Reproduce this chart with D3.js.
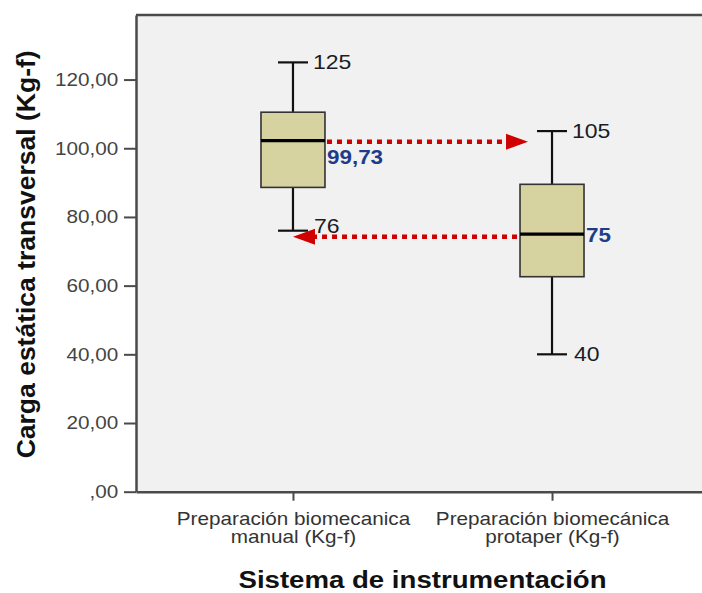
<!DOCTYPE html>
<html>
<head>
<meta charset="utf-8">
<script src="https://cdn.jsdelivr.net/npm/d3@7"></script>
<style>
  html, body { margin: 0; padding: 0; background: #ffffff; }
  svg { display: block; }
  text { font-family: "Liberation Sans", Arial, sans-serif; }
</style>
</head>
<body>
<svg id="chart" width="702" height="593"></svg>
<script>
// Box plot data: transverse static load per instrumentation system
const categories = ["manual", "protaper"];
const categoryLines = [
  ["Preparación biomecanica", "manual (Kg-f)"],
  ["Preparación biomecánica", "protaper (Kg-f)"]
];
const whiskerLow  = [76, 40];
const quartile1   = [88.6, 62.6];
const medians     = [102.2, 75];
const quartile3   = [110.5, 89.5];
const whiskerHigh = [125, 105];
const highLabels  = ["125", "105"];
const lowLabels   = ["76", "40"];
const centralValues = [99.73, 75];
const centralLabels = ["99,73", "75"];
const arrowLevels = [101.9, 74.2];   // dotted comparison arrows
const yTicks = [0, 20, 40, 60, 80, 100, 120];
const yTickLabels = [",00", "20,00", "40,00", "60,00", "80,00", "100,00", "120,00"];
const yMax = 138.8;
const yTitle = "Carga estática transversal (Kg-f)";
const xTitle = "Sistema de instrumentación";

const SX = 1.15;           // horizontal text stretch
const plot = { left: 136, right: 709, top: 15, bottom: 491.7 };
const boxW = 64, capW = 30;
const axisColor = "#4a4a4a";
const arrowRed = "#d10000";
const valueBlue = "#1d3d8c";

const svg = d3.select("#chart");

const y = d3.scaleLinear().domain([0, yMax]).range([plot.bottom, plot.top]);
const x = d3.scalePoint().domain(categories).range([plot.left, plot.right]).padding(0.606);

// plot background and top frame
svg.append("rect")
  .attr("x", plot.left).attr("y", plot.top)
  .attr("width", plot.right - plot.left).attr("height", plot.bottom - plot.top)
  .attr("fill", "#f1f1f1");
svg.append("line")
  .attr("x1", plot.left).attr("x2", plot.right)
  .attr("y1", plot.top).attr("y2", plot.top)
  .attr("stroke", axisColor).attr("stroke-width", 2.5);

// y axis
const yAxis = svg.append("g")
  .attr("transform", `translate(${plot.left},0)`)
  .call(d3.axisLeft(y).tickValues(yTicks).tickSize(12).tickSizeOuter(0).tickPadding(3.5)
    .tickFormat((d, i) => yTickLabels[i]));
yAxis.select(".domain").attr("stroke", axisColor).attr("stroke-width", 2.5);
yAxis.selectAll(".tick line").attr("stroke", axisColor).attr("stroke-width", 2);
yAxis.selectAll(".tick text")
  .attr("font-size", 18).attr("fill", "#444")
  .attr("font-family", "'Liberation Sans', Arial, sans-serif")
  .attr("transform", `scale(${SX},1)`);

// x axis
const xAxis = svg.append("g")
  .attr("transform", `translate(0,${plot.bottom})`)
  .call(d3.axisBottom(x).tickSize(9).tickSizeOuter(0));
xAxis.select(".domain").attr("stroke", axisColor).attr("stroke-width", 2.5);
xAxis.selectAll(".tick line").attr("stroke", axisColor).attr("stroke-width", 2);
xAxis.selectAll(".tick text").remove();
xAxis.selectAll(".tick").each(function (d, i) {
  const t = d3.select(this).append("text")
    .attr("text-anchor", "middle")
    .attr("font-size", 18).attr("fill", "#333")
    .attr("font-family", "'Liberation Sans', Arial, sans-serif")
    .attr("transform", `scale(${SX},1)`);
  categoryLines[i].forEach((line, k) => {
    t.append("tspan").attr("x", 0).attr("y", 33 + k * 18.5).text(line);
  });
});

// axis titles
svg.append("text")
  .attr("transform", `translate(35,${(plot.top + plot.bottom) / 2 + 1}) rotate(-90)`)
  .attr("text-anchor", "middle")
  .attr("font-size", 26.5).attr("font-weight", "bold").attr("fill", "#111")
  .text(yTitle);
svg.append("text")
  .attr("transform", `translate(${(plot.left + plot.right) / 2},588) scale(${SX},1)`)
  .attr("text-anchor", "middle")
  .attr("font-size", 24).attr("font-weight", "bold").attr("fill", "#111")
  .text(xTitle);

// boxes
const boxes = svg.append("g");
categories.forEach((c, i) => {
  const cx = x(c);
  const g = boxes.append("g");
  // whiskers
  g.append("line").attr("x1", cx).attr("x2", cx)
    .attr("y1", y(whiskerHigh[i])).attr("y2", y(quartile3[i]))
    .attr("stroke", "#111").attr("stroke-width", 2.2);
  g.append("line").attr("x1", cx).attr("x2", cx)
    .attr("y1", y(quartile1[i])).attr("y2", y(whiskerLow[i]))
    .attr("stroke", "#111").attr("stroke-width", 2.2);
  [whiskerHigh[i], whiskerLow[i]].forEach(v => {
    g.append("line").attr("x1", cx - capW / 2).attr("x2", cx + capW / 2)
      .attr("y1", y(v)).attr("y2", y(v))
      .attr("stroke", "#111").attr("stroke-width", 2.2);
  });
  // box
  g.append("rect")
    .attr("x", cx - boxW / 2).attr("y", y(quartile3[i]))
    .attr("width", boxW).attr("height", y(quartile1[i]) - y(quartile3[i]))
    .attr("fill", "#d6d3a0").attr("stroke", "#333").attr("stroke-width", 1.6);
  // median
  g.append("line").attr("x1", cx - boxW / 2).attr("x2", cx + boxW / 2)
    .attr("y1", y(medians[i])).attr("y2", y(medians[i]))
    .attr("stroke", "#000").attr("stroke-width", 3.2);
  // whisker end labels
  g.append("text")
    .attr("transform", `translate(${cx + 20},${y(whiskerHigh[i]) + 7}) scale(${SX},1)`)
    .attr("font-size", 20).attr("fill", "#1c1c24").text(highLabels[i]);
  g.append("text")
    .attr("transform", `translate(${cx + (i === 0 ? 21 : 22)},${y(whiskerLow[i]) + (i === 0 ? 2 : 7)}) scale(${SX},1)`)
    .attr("font-size", 20).attr("fill", "#1c1c24").text(lowLabels[i]);
});

// dotted comparison arrows
const arrows = [
  { y: arrowLevels[0], from: x(categories[0]) + boxW / 2 + 2, to: x(categories[1]) - 24 },
  { y: arrowLevels[1], from: x(categories[1]) - 35, to: x(categories[0]) }
];
const headLen = 22, headHalf = 8;
arrows.forEach(a => {
  const yy = y(a.y);
  const dir = Math.sign(a.to - a.from);
  svg.append("line")
    .attr("x1", a.from).attr("x2", a.to - dir * headLen)
    .attr("y1", yy).attr("y2", yy)
    .attr("stroke", arrowRed).attr("stroke-width", 4.5)
    .attr("stroke-dasharray", "5,5");
  svg.append("path")
    .attr("d", `M${a.to},${yy} L${a.to - dir * headLen},${yy - headHalf} L${a.to - dir * headLen},${yy + headHalf} Z`)
    .attr("fill", arrowRed);
});

// central value labels
const labelDy = [14.5, 8];
categories.forEach((c, i) => {
  svg.append("text")
    .attr("transform", `translate(${x(c) + boxW / 2 + 2},${y(centralValues[i]) + labelDy[i]}) scale(${SX},1)`)
    .attr("font-size", 19.5).attr("font-weight", "bold").attr("fill", valueBlue)
    .text(centralLabels[i]);
});
</script>
</body>
</html>
